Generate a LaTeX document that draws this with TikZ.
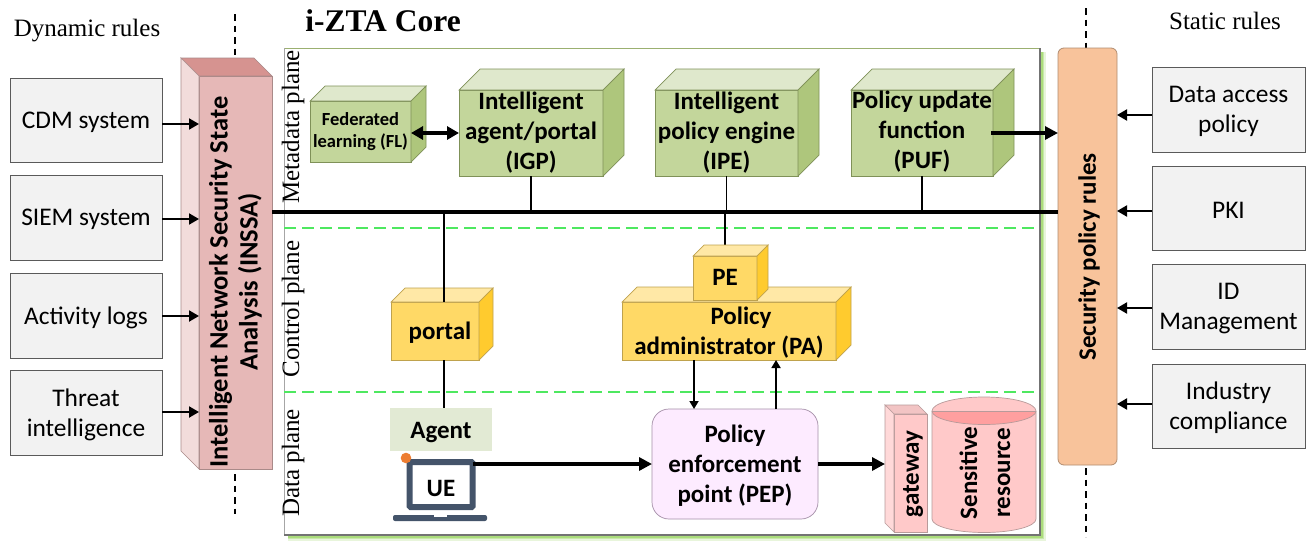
\documentclass[tikz,border=0pt]{standalone}
\usepackage{fontspec}
\setmainfont{Carlito}
\newfontfamily\serif{Liberation Serif}
\usetikzlibrary{arrows.meta,calc}
\definecolor{gf}{HTML}{C3D69B}\definecolor{gt}{HTML}{DFE8CC}\definecolor{gs}{HTML}{AEC67C}\definecolor{gd}{HTML}{7F9158}
\definecolor{yf}{HTML}{FFD966}\definecolor{yt}{HTML}{FFE8A6}\definecolor{ys}{HTML}{FFCB2E}\definecolor{yd}{HTML}{BFA24D}
\definecolor{rf}{HTML}{E6B8B7}\definecolor{rt}{HTML}{D69390}\definecolor{rs}{HTML}{F2DCDB}\definecolor{rd}{HTML}{A98A89}
\definecolor{pf}{HTML}{FFC9C9}\definecolor{pt}{HTML}{F2C4C4}\definecolor{ps}{HTML}{FFD9D9}\definecolor{pd}{HTML}{B89A9A}
\definecolor{grayfill}{HTML}{F2F2F2}\definecolor{graydraw}{HTML}{5A5A5A}
\definecolor{orangefill}{HTML}{F8C39B}\definecolor{orangedraw}{HTML}{B08C70}
\definecolor{planegreen}{HTML}{4EE860}\definecolor{framegreen}{HTML}{9BB070}
\definecolor{pepfill}{HTML}{FDEBFF}\definecolor{pepdraw}{HTML}{A58FA8}
\definecolor{agentfill}{HTML}{E2EAD4}\definecolor{lap}{HTML}{44546A}\definecolor{dot}{HTML}{ED7D31}
\definecolor{redtop}{HTML}{FF9F9F}\definecolor{glow}{HTML}{8FD14F}
\tikzset{
  bold23/.style={font=\fontsize{25}{30}\selectfont\bfseries,align=center,text=black},
  reg23/.style={font=\fontsize{25.4}{30}\selectfont,align=center,text=black},
  planelabel/.style={font=\serif\fontsize{25}{27}\selectfont,rotate=90,text=black},
  ruletitle/.style={font=\serif\fontsize{25}{26}\selectfont,text=black},
  srcbox/.style={draw=graydraw,fill=grayfill,line width=0.8pt,inner sep=0pt,outer sep=0pt},
  arr/.style={line width=2pt,-{Triangle[length=10pt,width=11pt]}},
  arrthin/.style={line width=1.7pt,-{Triangle[length=8pt,width=9pt]}},
  arrbig/.style={line width=3.2pt,-{Triangle[length=13pt,width=13pt]}},
  busline/.style={line width=3.2pt},
  stub/.style={line width=1.8pt},
  planeline/.style={draw=planegreen,line width=1.6pt,dash pattern=on 12pt off 6pt},
  axisdash/.style={line width=1.6pt,dash pattern=on 6.5pt off 5pt},
}
% #1 name #2 x1 #3 y1 #4 x2 #5 y2 #6 depth #7 palette #8 text style #9 text
\newcommand\cube[9]{%
  \node[draw=#7d,fill=#7f,line width=0.7pt,inner sep=0pt,outer sep=0pt,
        minimum width={(#4-#2)*1pt},minimum height={(#5-#3)*1pt}] (#1)
        at ({(#2+#4)/2},{(#3+#5)/2}) {};
  \fill[#7t,draw=#7d,line width=0.7pt] (#1.north west) -- ++(#6,-#6) -- ++({#4-#2},0) -- (#1.north east) -- cycle;
  \fill[#7s,draw=#7d,line width=0.7pt] (#1.north east) -- ++(#6,-#6) -- ++(0,{#5-#3}) -- (#1.south east) -- cycle;
  \node[inner sep=0pt,yshift=0.5pt,#8] (#1txt) at (#1.center) {#9};
}
\newcommand\srcnode[6]{%
  \node[srcbox,minimum width={(#4-#2)*1pt},minimum height={(#5-#3)*1pt}] (#1) at ({(#2+#4)/2},{(#3+#5)/2}) {};
  \node[reg23,inner sep=0pt,yshift=-2pt] (#1txt) at (#1.center) {#6};}
\begin{document}
\begin{tikzpicture}[x=1pt,y=-1pt]
\useasboundingbox (0,0) rectangle (1315,541);
\fill[white] (0,0) rectangle (1315,541);
% titles
\node[ruletitle,anchor=center] (dyn) at (87,31) {Dynamic rules};
\node[ruletitle,anchor=center] (stat) at (1225,21) {Static rules};
\node[font=\serif\fontsize{31.5}{34}\selectfont\bfseries,text=black] (core) at (383,21) {i-ZTA Core};
% axis coordinates
\coordinate (axLtop) at (235,14);\coordinate (axLbot) at (235,514);
\coordinate (axRtop) at (1086,8);\coordinate (axRbot) at (1086,537);
\draw[axisdash] (axLtop) -- (axLbot);
\draw[axisdash] (axRtop) -- (axRbot);
% core frame with green glow
\foreach \w/\o in {12/0.2,8/0.35,5/0.5}{
  \draw[glow,line width=\w pt,opacity=\o] (1040,52) -- (1040,535) -- (288,535);
}
\node[draw=none,fill=white,inner sep=0pt,outer sep=0pt,minimum width=756pt,minimum height=487pt] (frame) at (662,291.5) {};
\draw[framegreen,line width=0.8pt] (frame.south west) -- (frame.north west) -- (frame.north east);
\draw[gray!70,line width=1pt] (frame.south west) -- (frame.north west);
\draw[black!55,line width=2pt] (frame.north east) -- (frame.south east) -- (frame.south west);
% plane labels and separators
\node[planelabel] (mp) at (293,127) {Metadata plane};
\node[planelabel] (cp) at (293,309) {Control plane};
\node[planelabel] (dp) at (293,463) {Data plane};
\coordinate (pl1a) at (284,228);\coordinate (pl1b) at (1040,228);
\coordinate (pl2a) at (284,392);\coordinate (pl2b) at (1040,392);
\draw[planeline] (pl1a) -- (pl1b);
\draw[planeline] (pl2a) -- (pl2b);
% source boxes
\srcnode{cdm}{10}{78}{162}{162}{CDM system}
\srcnode{siem}{10}{175}{162}{260}{SIEM system}
\srcnode{logs}{10}{273}{162}{358}{Activity logs}
\srcnode{threat}{10}{370}{162}{455}{Threat\\intelligence}
\srcnode{dap}{1152}{67}{1305}{152}{Data access\\policy}
\srcnode{pki}{1152}{166}{1305}{250}{PKI}
\srcnode{idm}{1152}{264}{1305}{349}{ID\\Management}
\srcnode{ind}{1152}{364}{1305}{448}{Industry\\compliance}
% INSSA (depth goes up-left)
\node[draw=rd,fill=rf,line width=0.7pt,inner sep=0pt,outer sep=0pt,minimum width=73pt,minimum height=393pt] (inssa) at (235.5,272.5) {};
\fill[rt,draw=rd,line width=0.7pt] (inssa.north west) -- ++(-18,-18) -- ++(73,0) -- (inssa.north east) -- cycle;
\fill[rs,draw=rd,line width=0.7pt] (inssa.north west) -- ++(-18,-18) -- ++(0,393) -- (inssa.south west) -- cycle;
\node[font=\fontsize{26.5}{30}\selectfont\bfseries,align=center,text=black,rotate=90,inner sep=0pt] (inssatxt) at (235.5,282) {Intelligent Network Security State\\Analysis (INSSA)};
% security rules
\node[draw=orangedraw,fill=orangefill,line width=0.8pt,rounded corners=6pt,inner sep=0pt,outer sep=0pt,minimum width=59pt,minimum height=417pt] (sec) at (1087.5,256.5) {};
\node[bold23,rotate=90,inner sep=0pt] (sectxt) at (1089,257) {Security policy rules};
% bus
\draw[busline] (inssa.east |- 0,212) -- (sec.west |- 0,212);
% cubes
\coordinate (petop) at (725,245);
\draw[stub] (725,212) -- (petop);
\cube{fl}{310}{101}{411}{162}{15}{g}{font=\fontsize{18.5}{22}\selectfont\bfseries,align=center,text=black,yshift=-1pt}{Federated\\learning (FL)}
\cube{igp}{459}{90}{603}{176}{21}{g}{bold23}{Intelligent\\agent/portal\\(IGP)}
\cube{ipe}{655}{90}{798}{176}{21}{g}{bold23}{Intelligent\\policy engine\\(IPE)}
\cube{puf}{851}{90}{993}{176}{21}{g}{bold23,yshift=0.5pt}{Policy update\\function\\(PUF)}
\draw[stub] (igp.south) -- (igp.south |- 0,212);
\draw[stub] (ipe.south) -- (ipe.south |- 0,212);
\draw[stub] (puf.south) -- (puf.south |- 0,212);
\cube{pa}{622}{302}{836}{360}{15}{y}{bold23,yshift=-2pt}{\hspace{24pt}Policy\\administrator (PA)}
\cube{pe}{693}{256}{757}{300}{11}{y}{bold23}{PE}
\cube{portal}{391}{302}{479}{360}{14}{y}{bold23,yshift=-2pt}{\hspace{10pt}portal}
% agent, laptop
\node[fill=agentfill,inner sep=0pt,outer sep=0pt,minimum width=102pt,minimum height=43pt] (agent) at (441,429.5) {};
\node[bold23,inner sep=0pt,yshift=-3.5pt] (agenttxt) at (agent.center) {Agent};
\draw[stub] (444,212) -- (portal.north -| 444,0);
\draw[stub] (portal.south -| 444,0) -- (agent.north -| 444,0);
\node[draw=lap,fill=white,line width=6pt,rounded corners=1pt,inner sep=0pt,outer sep=0pt,minimum width=63pt,minimum height=45pt] (ue) at (441,484.5) {};
\node[bold23,inner sep=0pt,yshift=-3.5pt] (uetxt) at (ue.center) {UE};
\fill[lap,rounded corners=2pt] (393,515) rectangle (487,521);
\fill[white] (434,515) rectangle (447,516.5);
\fill[dot] (406,458) circle (5.3);
% PEP
\node[draw=pepdraw,fill=pepfill,line width=0.7pt,rounded corners=17pt,inner sep=0pt,outer sep=0pt,minimum width=166pt,minimum height=110pt] (pep) at (735,464) {};
\node[bold23,inner sep=0pt,yshift=-2pt] (peptxt) at (pep.center) {Policy\\enforcement\\point (PEP)};
% gateway
\node[draw=pd,fill=pf,line width=0.7pt,inner sep=0pt,outer sep=0pt,minimum width=33pt,minimum height=118pt] (gw) at (910.5,473) {};
\fill[pt,draw=pd,line width=0.7pt] (gw.north west) -- ++(-9,-9) -- ++(33,0) -- (gw.north east) -- cycle;
\fill[ps,draw=pd,line width=0.7pt] (gw.north west) -- ++(-9,-9) -- ++(0,118) -- (gw.south west) -- cycle;
\node[bold23,rotate=90,inner sep=0pt] (gwtxt) at (913,474) {gateway};
% cylinder
\node[inner sep=0pt,outer sep=0pt,minimum width=104pt,minimum height=135pt] (res) at (984,464.5) {};
\fill[pf,draw=pd,line width=0.7pt] (932,411) -- (932,519) arc[start angle=180,end angle=0,x radius=52,y radius=13.5] -- (1036,411) arc[start angle=0,end angle=-180,x radius=52,y radius=14] -- cycle;
\fill[redtop] (932,411) arc[start angle=180,end angle=0,x radius=52,y radius=13.5] -- cycle;
\draw[pd,line width=0.7pt] (932,411) arc[start angle=180,end angle=0,x radius=52,y radius=13.5];
\draw[pd,line width=0.7pt] (932,411) -- (1036,411);
\node[font=\fontsize{25}{33}\selectfont\bfseries,align=center,text=black,rotate=90,inner sep=0pt] (restxt) at (985,473) {Sensitive\\resource};
% arrows
\draw[arr] (cdm.east |- 0,124) -- (inssa.west |- 0,124);
\draw[arr] (siem.east |- 0,219) -- (inssa.west |- 0,219);
\draw[arr] (logs.east |- 0,316) -- (inssa.west |- 0,316);
\draw[arr] (threat.east |- 0,412) -- (inssa.west |- 0,412);
\draw[arr] (dap.west |- 0,115) -- (sec.east |- 0,115);
\draw[arr] (pki.west |- 0,211) -- (sec.east |- 0,211);
\draw[arr] (idm.west |- 0,308) -- (sec.east |- 0,308);
\draw[arr] (ind.west |- 0,404) -- (sec.east |- 0,404);
\draw[line width=3.2pt,{Triangle[length=12pt,width=13pt]}-{Triangle[length=12pt,width=13pt]}] (fl.east |- 0,133) -- (igp.west |- 0,133);
\draw[arrbig] (991,133) -- (sec.west |- 0,133);
\draw[arrthin] (pa.south -| 694,0) -- (pep.north -| 694,0);
\draw[arrthin] (pep.north -| 776,0) -- (pa.south -| 776,0);
\draw[arrbig] (ue.east |- 0,464) -- (pep.west |- 0,464);
\draw[arrbig] (pep.east |- 0,464) -- ($(gw.west |- 0,464)+(-9,0)$);
\end{tikzpicture}
\end{document}
